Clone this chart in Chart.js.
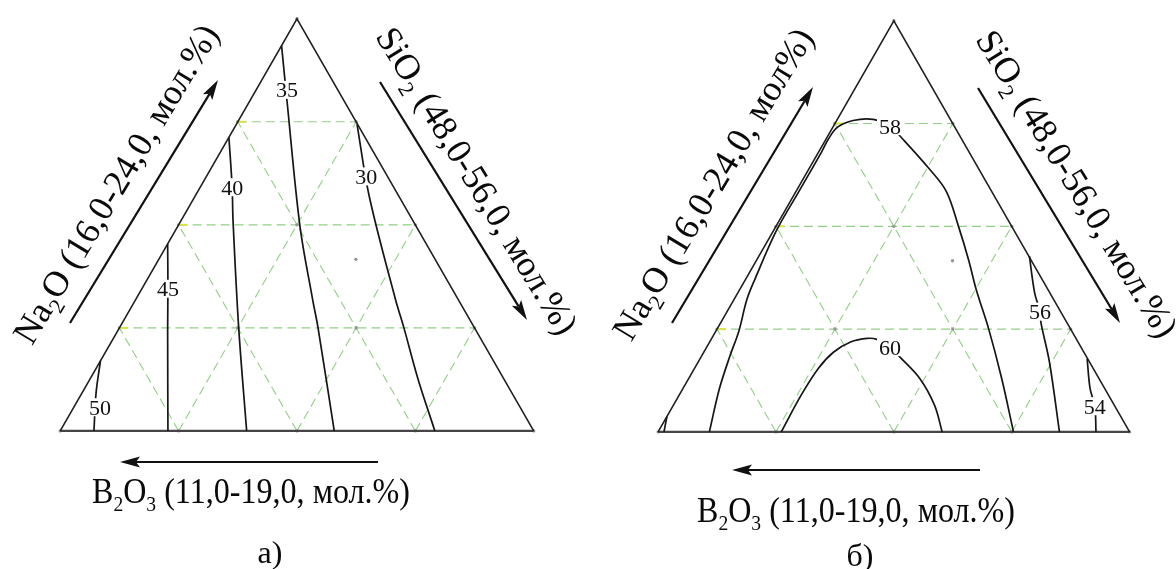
<!DOCTYPE html>
<html><head><meta charset="utf-8">
<script src="https://cdn.jsdelivr.net/npm/chart.js@4/dist/chart.umd.min.js"></script>
<style>
html,body{margin:0;padding:0;background:#fff;}
#wrap{position:relative;width:1176px;height:569px;overflow:hidden;background:#fff;}
canvas{position:absolute;top:0;}
</style></head><body>
<div id="wrap">
<canvas id="ca" width="588" height="569" style="left:0px"></canvas>
<canvas id="cb" width="588" height="569" style="left:588px"></canvas>
</div>
<script>
// ---- composition ranges (mol.%) ----
const na2oRange = [16, 24];
const sio2Range = [48, 56];
const b2o3Range = [11, 19];
const TOTAL = 83; // Na2O + SiO2 + B2O3 on every point of the diagram
// grid tick levels
const na2oTicks = [18, 20, 22];
const sio2Ticks = [50, 52, 54];
const b2o3Ticks = [13, 15, 17];
// design centre point
const centerNa = [19.33];
const centerSi = [51.33];

// ---- panel a) contours (Na2O, SiO2 pairs) ----
const a50Na = [17.36, 16.73, 16.00];
const a50Si = [48.00, 48.24, 48.57];
const a45Na = [19.63, 18.76, 17.97, 16.00];
const a45Si = [48.00, 48.44, 48.83, 49.82];
const a40Na = [21.70, 20.73, 20.08, 18.01, 16.00];
const a40Si = [48.00, 48.54, 48.88, 50.01, 51.15];
const a35Na = [23.48, 22.37, 19.98, 18.55, 18.01, 16.00];
const a35Si = [48.00, 48.65, 50.06, 50.99, 51.35, 52.63];
const a30Na = [21.95, 20.56, 18.55, 18.01, 17.01, 16.00];
const a30Si = [50.04, 50.94, 52.39, 52.80, 53.54, 54.33];
const aLabelText = ['35', '40', '45', '50', '30'];
const aLabelNa = [22.62, 20.73, 18.76, 16.46, 20.94];
const aLabelSi = [48.52, 48.54, 48.44, 48.44, 50.70];

// ---- panel б) contours ----
const b58Na = [16.00,16.84,17.48,17.96,18.57,18.95,19.91,20.68,21.45,21.70,21.93,22.06,22.08,21.95,21.70,21.12,20.68,19.97,19.34,18.76,18.00,17.04,16.00];
const b58Si = [48.87,48.62,48.48,48.39,48.22,48.16,48.05,48.05,48.05,48.04,48.08,48.28,48.61,48.96,49.30,50.04,50.55,51.12,51.60,52.02,52.61,53.31,54.03];
const b60Na = [16.00,16.71,17.23,17.55,17.75,17.82,17.80,17.65,17.46,17.04,16.52,16.00];
const b60Si = [50.09,50.07,50.10,50.20,50.39,50.64,50.81,51.11,51.37,51.92,52.43,52.82];
const b56Na = [19.42, 18.70, 18.34, 18.13, 17.36, 16.00];
const b56Si = [52.59, 53.04, 53.31, 53.43, 53.96, 54.81];
const b54Na = [17.42, 16.84, 16.50, 16.00];
const b54Si = [54.57, 54.91, 55.16, 55.43];
const bCornerNa = [16.30, 16.00];
const bCornerSi = [48.00, 48.10];
const bLabelText = ['58', '60', '56', '54'];
const bLabelNa = [21.95, 17.65, 18.34, 16.50];
const bLabelSi = [48.96, 51.11, 53.31, 55.16];

// ---- helpers ----
const SQ = Math.sqrt(3) / 2;
function toXY(na, si) {
  const a = (na - na2oRange[0]) / (na2oRange[1] - na2oRange[0]);
  const s = (si - sio2Range[0]) / (sio2Range[1] - sio2Range[0]);
  return { x: s + a / 2, y: a * SQ };
}
function pts(naArr, siArr) { return naArr.map((n, i) => toXY(n, siArr[i])); }

const SERIF = '"Liberation Serif", "Times New Roman", serif';
const gridStyle = { borderColor: 'rgba(140,204,128,0.95)', borderWidth: 1.1, borderDash: [9, 5], pointRadius: 0, tension: 0, order: 3 };
const contourStyle = { borderColor: '#161616', borderWidth: 1.7, pointRadius: 0, tension: 0.35, order: 0 };

function buildDatasets(contours) {
  const ds = [];
  const naMax = na2oRange[1], siMin = sio2Range[0];
  const span = na2oRange[1] - na2oRange[0];
  // grid: constant Na2O
  na2oTicks.forEach(na => ds.push(Object.assign({ data: [toXY(na, siMin), toXY(na, siMin + span - (na - na2oRange[0]))] }, gridStyle)));
  // constant SiO2
  sio2Ticks.forEach(si => ds.push(Object.assign({ data: [toXY(na2oRange[0], si), toXY(na2oRange[0] + span - (si - siMin), si)] }, gridStyle)));
  // constant B2O3
  b2o3Ticks.forEach(b => ds.push(Object.assign({ data: [toXY(na2oRange[0], TOTAL - na2oRange[0] - b), toXY(TOTAL - siMin - b, siMin)] }, gridStyle)));
  // yellow ticks at left side
  na2oTicks.forEach(na => ds.push({ data: [toXY(na, siMin), toXY(na, siMin + 0.14)], borderColor: '#d5e444', borderWidth: 2, pointRadius: 0, order: 2 }));
  // grid nodes
  const nodes = [];
  for (let na = na2oRange[0]; na <= naMax; na += 2)
    for (let si = siMin; si <= siMin + span - (na - na2oRange[0]) + 1e-9; si += 2) nodes.push(toXY(na, si));
  ds.push({ data: nodes, showLine: false, pointRadius: 1.7, pointBorderWidth: 0, pointBackgroundColor: '#959595', order: 2 });
  ds.push({ data: pts(centerNa, centerSi), showLine: false, pointRadius: 1.7, pointBorderWidth: 0, pointBackgroundColor: '#959595', order: 2 });
  // triangle sides
  ds.push({ data: [toXY(na2oRange[0], siMin), toXY(naMax, siMin), toXY(na2oRange[0], sio2Range[1])], borderColor: '#202020', borderWidth: 1.6, pointRadius: 0, order: 1 });
  ds.push({ data: [toXY(na2oRange[0], siMin), toXY(na2oRange[0], sio2Range[1])], borderColor: '#454545', borderWidth: 2.4, pointRadius: 0, order: 1 });
  // contours
  contours.forEach(c => ds.push(Object.assign({ data: pts(c[0], c[1]) }, contourStyle)));
  return ds;
}

function drawRich(ctx, parts, cx, cy, angleDeg, size, targetW) {
  ctx.save();
  ctx.translate(cx, cy);
  ctx.rotate(angleDeg * Math.PI / 180);
  const main = size + 'px ' + SERIF;
  const sub = Math.round(size * 0.62) + 'px ' + SERIF;
  let w = 0;
  const widths = parts.map(p => { ctx.font = p.sub ? sub : main; const m = ctx.measureText(p.t).width; w += m; return m; });
  const sx = targetW ? targetW / w : 1;
  ctx.scale(sx, 1);
  let x = -w / 2;
  ctx.fillStyle = '#0a0a0a'; ctx.textBaseline = 'alphabetic'; ctx.textAlign = 'left';
  parts.forEach((p, i) => { ctx.font = p.sub ? sub : main; ctx.fillText(p.t, x, p.sub ? size * 0.22 : 0); x += widths[i]; });
  ctx.restore();
}
function drawArrow(ctx, x1, y1, x2, y2) {
  const ang = Math.atan2(y2 - y1, x2 - x1), L = 20, H = 5.5;
  ctx.save();
  ctx.strokeStyle = '#111'; ctx.fillStyle = '#111'; ctx.lineWidth = 2.2;
  ctx.beginPath(); ctx.moveTo(x1, y1); ctx.lineTo(x2 - Math.cos(ang) * L * 0.8, y2 - Math.sin(ang) * L * 0.8); ctx.stroke();
  ctx.translate(x2, y2); ctx.rotate(ang);
  ctx.beginPath(); ctx.moveTo(0, 0); ctx.lineTo(-L, -H); ctx.lineTo(-L * 0.8, 0); ctx.lineTo(-L, H); ctx.closePath(); ctx.fill();
  ctx.restore();
}

function makeDecor(cfg) {
  return {
    id: 'decor',
    afterDatasetsDraw(chart) {
      const ctx = chart.ctx, xs = chart.scales.x, ys = chart.scales.y;
      cfg.labelText.forEach((t, i) => {
        const p = toXY(cfg.labelNa[i], cfg.labelSi[i]);
        const px = xs.getPixelForValue(p.x), py = ys.getPixelForValue(p.y);
        ctx.save();
        ctx.font = '22px ' + SERIF;
        const w = ctx.measureText(t).width;
        ctx.fillStyle = '#fff';
        ctx.fillRect(px - w / 2 - 2, py - 9, w + 4, 18);
        ctx.fillStyle = '#111'; ctx.textAlign = 'center'; ctx.textBaseline = 'alphabetic';
        ctx.fillText(t, px, py + 7.4);
        ctx.restore();
      });
      cfg.arrows.forEach(a => drawArrow(ctx, a[0], a[1], a[2], a[3]));
      cfg.titles.forEach(t => drawRich(ctx, t.parts, t.x, t.y, t.a, t.size, t.w));
    }
  };
}

function makeChart(id, contours, cfg, geom) {
  return new Chart(document.getElementById(id), {
    type: 'scatter',
    data: { datasets: buildDatasets(contours) },
    options: {
      responsive: false, maintainAspectRatio: false, animation: false, events: [],
      layout: { padding: 0 },
      elements: { line: { fill: false } },
      datasets: { scatter: { showLine: true, clip: false } },
      scales: {
        x: { type: 'linear', display: false, min: geom.xmin, max: geom.xmax },
        y: { type: 'linear', display: false, min: geom.ymin, max: geom.ymax }
      },
      plugins: { legend: { display: false }, tooltip: { enabled: false } }
    },
    plugins: [makeDecor(cfg)]
  });
}

// panel a)
const kA = 418 / SQ;
makeChart('ca',
  [[a50Na, a50Si], [a45Na, a45Si], [a40Na, a40Si], [a35Na, a35Si], [a30Na, a30Si]],
  {
    labelText: aLabelText, labelNa: aLabelNa, labelSi: aLabelSi,
    arrows: [[70, 323, 218, 80], [380, 82, 527, 320], [378, 462, 120, 462]],
    titles: [
      { parts: [{ t: 'Na' }, { t: '2', sub: 1 }, { t: 'O (16,0-24,0, мол.%)' }], x: 126, y: 190, a: -59, size: 36 },
      { parts: [{ t: 'SiO' }, { t: '2', sub: 1 }, { t: ' (48,0-56,0, мол.%)' }], x: 467, y: 187, a: 58.5, size: 36 },
      { parts: [{ t: 'B' }, { t: '2', sub: 1 }, { t: 'O' }, { t: '3', sub: 1 }, { t: ' (11,0-19,0, мол.%)' }], x: 251, y: 503, a: 0, size: 36, w: 318 },
      { parts: [{ t: 'а)' }], x: 270, y: 563, a: 0, size: 32 }
    ]
  },
  { xmin: -57 / 480, xmax: 531 / 480, ymin: -136 / kA, ymax: 433 / kA });

// panel б)
const kB = 417 / SQ;
makeChart('cb',
  [[b58Na, b58Si], [b60Na, b60Si], [b56Na, b56Si], [b54Na, b54Si], [bCornerNa, bCornerSi]],
  {
    labelText: bLabelText, labelNa: bLabelNa, labelSi: bLabelSi,
    arrows: [[84, 323, 225, 87], [390, 88, 532, 323], [392, 470, 144, 470]],
    titles: [
      { parts: [{ t: 'Na' }, { t: '2', sub: 1 }, { t: 'O (16,0-24,0, мол%)' }], x: 135, y: 190, a: -59, size: 36 },
      { parts: [{ t: 'SiO' }, { t: '2', sub: 1 }, { t: ' (48,0-56,0, мол.%)' }], x: 479, y: 190, a: 58.5, size: 36 },
      { parts: [{ t: 'B' }, { t: '2', sub: 1 }, { t: 'O' }, { t: '3', sub: 1 }, { t: ' (11,0-19,0, мол.%)' }], x: 268, y: 522, a: 0, size: 36, w: 318 },
      { parts: [{ t: 'б)' }], x: 272, y: 566, a: 0, size: 32 }
    ]
  },
  { xmin: -67 / 478, xmax: 521 / 478, ymin: -135 / kB, ymax: 434 / kB });
</script>
</body></html>
